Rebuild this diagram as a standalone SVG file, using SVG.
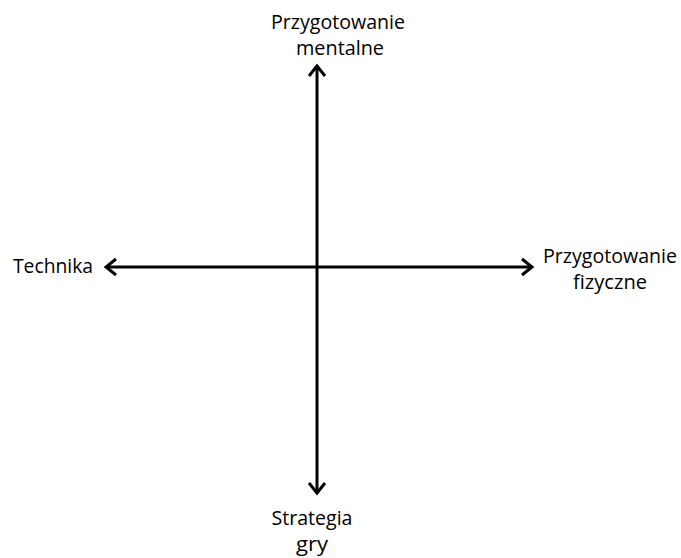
<svg xmlns="http://www.w3.org/2000/svg" width="681" height="558" viewBox="0 0 681 558">
<style>
.lbl{font-family:"Open Sans","Liberation Sans",sans-serif;font-size:20px;fill:#000;text-anchor:middle}
.ax{stroke:#000;stroke-width:3;fill:none}
</style>
<defs>
<marker id="ah" markerUnits="userSpaceOnUse" viewBox="-14 -10 16 20" refX="0" refY="0" markerWidth="16" markerHeight="20" orient="auto" overflow="visible">
<path d="M-10,-8 L0,0 L-10,8" fill="none" stroke="#000" stroke-width="3" stroke-linejoin="miter"/>
</marker>
</defs>
<rect width="681" height="558" fill="#fff"/>
<g id="connectors">
<line class="ax" x1="317" y1="267" x2="317" y2="66" marker-end="url(#ah)"/>
<line class="ax" x1="317" y1="267" x2="317" y2="493" marker-end="url(#ah)"/>
<line class="ax" x1="317" y1="267" x2="106" y2="267" marker-end="url(#ah)"/>
<line class="ax" x1="317" y1="267" x2="532" y2="267" marker-end="url(#ah)"/>
</g>
<g id="node-top">
<text class="lbl" x="338" y="29" textLength="134" lengthAdjust="spacingAndGlyphs">Przygotowanie</text>
<text class="lbl" x="340" y="55" textLength="88" lengthAdjust="spacingAndGlyphs">mentalne</text>
</g>
<g id="node-left">
<text class="lbl" x="53" y="273" textLength="80" lengthAdjust="spacingAndGlyphs">Technika</text>
</g>
<g id="node-right">
<text class="lbl" x="610" y="263" textLength="134" lengthAdjust="spacingAndGlyphs">Przygotowanie</text>
<text class="lbl" x="610" y="289" textLength="74" lengthAdjust="spacingAndGlyphs">fizyczne</text>
</g>
<g id="node-bottom">
<text class="lbl" x="312" y="525" textLength="81" lengthAdjust="spacingAndGlyphs">Strategia</text>
<text class="lbl" x="312" y="551" textLength="32" lengthAdjust="spacingAndGlyphs">gry</text>
</g>
</svg>
